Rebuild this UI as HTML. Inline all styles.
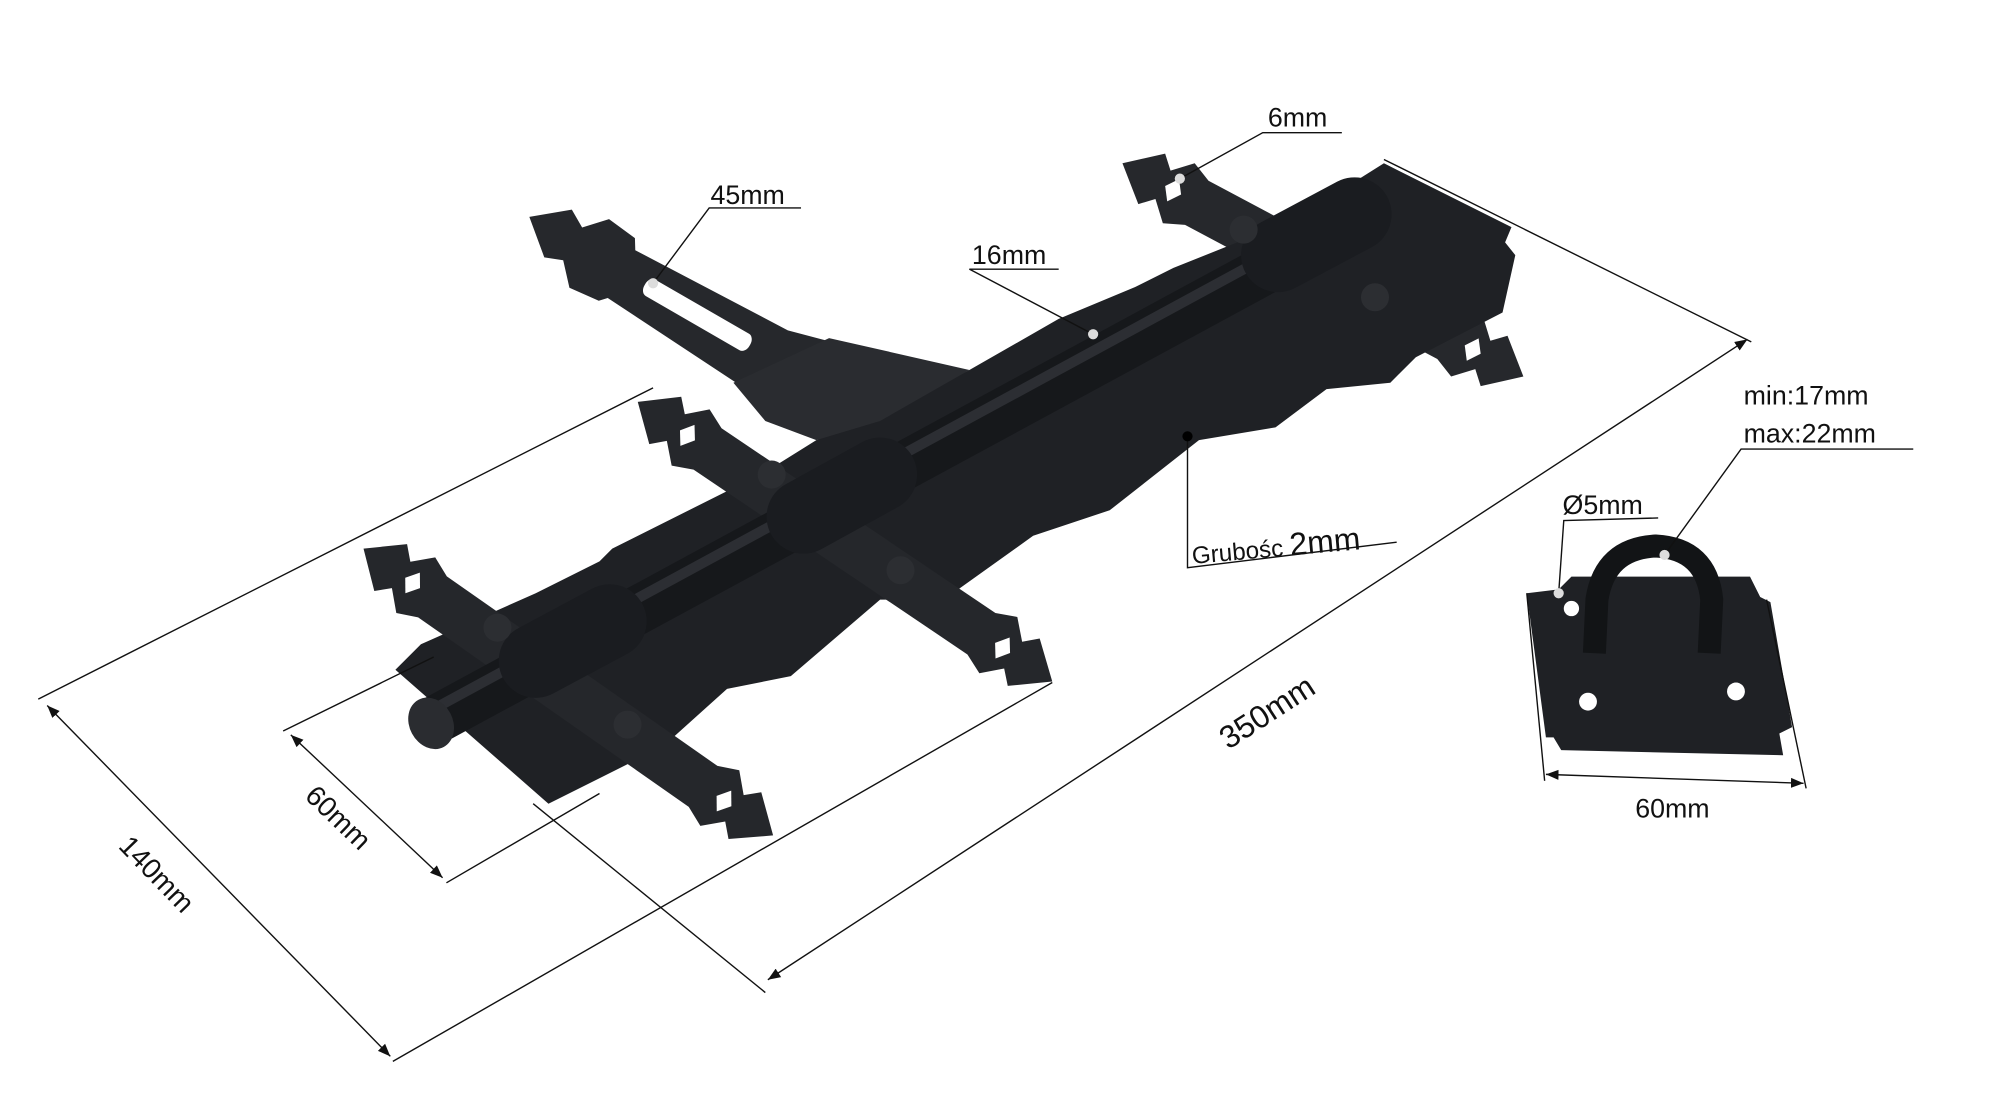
<!DOCTYPE html>
<html><head><meta charset="utf-8"><style>
html,body{margin:0;padding:0;background:#fff;}
svg{display:block;}
text{font-family:"Liberation Sans","DejaVu Sans",sans-serif;fill:#111;}
</style></head><body>
<svg width="2000" height="1115" viewBox="0 0 1568 874" preserveAspectRatio="none" xmlns="http://www.w3.org/2000/svg">
<defs>
<marker id="ar" viewBox="0 0 10 10" refX="10" refY="5" markerWidth="9" markerHeight="9" orient="auto-start-reverse"><path d="M0,1 L10,5 L0,9 z" fill="#111"/></marker>
</defs>
<rect width="1568" height="874" fill="#fff"/>

<!-- top-left slotted strap -->
<g fill="#26282c" transform="translate(415,170) rotate(30) scale(1,1.35)">
 <path d="M0,0 L26,-16 L40,-10 L55,-22 L80,-20 L85,-14 L220,-18 L250,-24 L250,30 L220,24 L85,18 L80,22 L55,24 L40,12 L26,16 Z"/>
 <rect x="105" y="-5" width="95" height="11" rx="5" fill="#fff"/>
</g>
<!-- right strap -->
<g fill="#26282c" transform="translate(880,128) rotate(28) scale(1,1.4)">
 <path d="M0,0 L26,-16 L36,-9 L50,-19 L66,-14 L290,-14 L306,-19 L320,-9 L330,-16 L356,0 L330,16 L320,9 L306,19 L290,14 L66,14 L50,19 L36,9 L26,16 Z"/>
 <rect x="40" y="-5" width="10" height="10" fill="#fff" transform="rotate(45 45 0)"/>
 <rect x="306" y="-5" width="10" height="10" fill="#fff" transform="rotate(45 311 0)"/>
</g>
<!-- plate -->
<path fill="#1f2125" d="M1085,128 L1185,178 L1180,190 L1188,200 L1178,245 L1110,280 L1090,300 L1040,305 L1000,335 L940,345 L870,400 L810,420 L740,470 L690,470 L620,530 L570,540 L520,585 L470,610 L430,630 L310,525 L330,505 L420,465 L470,440 L480,430 L600,370 L640,345 L700,320 L760,290 L830,250 L890,225 L920,210 L970,190 L1000,170 L1050,150 Z"/>
<path fill="#2a2c30" d="M575,300 L650,265 L760,290 L690,330 L640,345 L600,330 Z"/>
<!-- middle strap -->
<g fill="#25272b" transform="translate(500,315) rotate(34) scale(1,1.4)">
 <path d="M0,0 L26,-16 L36,-9 L50,-19 L66,-14 L325,-14 L341,-19 L355,-9 L365,-16 L392,0 L365,16 L355,9 L341,19 L325,14 L66,14 L50,19 L36,9 L26,16 Z"/>
 <rect x="42" y="-5" width="10" height="10" fill="#fff" transform="rotate(45 47 0)"/>
 <rect x="340" y="-5" width="10" height="10" fill="#fff" transform="rotate(45 345 0)"/>
</g>
<!-- bottom-left strap -->
<g fill="#25272b" transform="translate(285,430) rotate(35) scale(1,1.4)">
 <path d="M0,0 L26,-16 L36,-9 L50,-19 L66,-14 L325,-14 L341,-19 L355,-9 L365,-16 L392,0 L365,16 L355,9 L341,19 L325,14 L66,14 L50,19 L36,9 L26,16 Z"/>
 <rect x="42" y="-5" width="10" height="10" fill="#fff" transform="rotate(45 47 0)"/>
 <rect x="340" y="-5" width="10" height="10" fill="#fff" transform="rotate(45 345 0)"/>
</g>
<!-- rod -->
<line x1="340" y1="565" x2="1065" y2="172" stroke="#16181b" stroke-width="38" stroke-linecap="round"/>
<line x1="345" y1="553" x2="1060" y2="165" stroke="#2c2e33" stroke-width="8"/>
<ellipse cx="338" cy="567" rx="17" ry="21" fill="#2a2c30" transform="rotate(-28 338 567)"/>
<!-- barrels -->
<line x1="420" y1="518" x2="478" y2="487" stroke="#1a1c20" stroke-width="58" stroke-linecap="round"/>
<line x1="630" y1="405" x2="690" y2="372" stroke="#1a1c20" stroke-width="58" stroke-linecap="round"/>
<line x1="1002" y1="200" x2="1062" y2="168" stroke="#1a1c20" stroke-width="58" stroke-linecap="round"/>
<!-- rivets -->
<g fill="#2c2e32"><circle cx="390" cy="492" r="11"/><circle cx="492" cy="568" r="11"/><circle cx="605" cy="372" r="11"/><circle cx="706" cy="447" r="11"/><circle cx="975" cy="180" r="11"/><circle cx="1078" cy="233" r="11"/></g>

<!-- staple plate -->
<path fill="#1f2125" d="M1197,465 L1222,462 L1232,452 L1372,452 L1380,468 L1388,472 L1405,570 L1395,575 L1398,592 L1224,588 L1218,578 L1212,578 Z"/>
<g fill="#fff"><circle cx="1232" cy="477" r="6"/><circle cx="1245" cy="550" r="7"/><circle cx="1361" cy="542" r="7"/></g>
<path d="M1250,512 L1252,470 Q1258,430 1298,428 Q1338,430 1342,470 L1340,512" fill="none" stroke="#121416" stroke-width="18"/>

<!-- dimension lines -->
<g stroke="#111" stroke-width="1.1" fill="none">
 <line x1="30" y1="548" x2="512" y2="304"/>
 <line x1="308" y1="832" x2="825" y2="535"/>
 <line x1="37" y1="553" x2="306" y2="828" marker-start="url(#ar)" marker-end="url(#ar)"/>
 <line x1="222" y1="573" x2="340" y2="515"/>
 <line x1="350" y1="692" x2="470" y2="622"/>
 <line x1="228" y1="576" x2="347" y2="688" marker-start="url(#ar)" marker-end="url(#ar)"/>
 <line x1="418" y1="630" x2="600" y2="778"/>
 <line x1="1085" y1="125" x2="1373" y2="268"/>
 <line x1="602" y1="768" x2="1370" y2="266" marker-start="url(#ar)" marker-end="url(#ar)"/>
 <line x1="1197" y1="465" x2="1211" y2="612"/>
 <line x1="1385" y1="470" x2="1416" y2="618"/>
 <line x1="1212" y1="607" x2="1414" y2="614" marker-start="url(#ar)" marker-end="url(#ar)"/>
 <polyline points="925,140 990,104 1052,104"/>
 <polyline points="512,222 556,163 628,163"/>
 <polyline points="857,262 760,211 830,211"/>
 <polyline points="931,342 931,445 1095,425"/>
 <polyline points="1305,435 1365,352 1500,352"/>
 <polyline points="1222,465 1226,408 1300,406"/>
</g>
<g fill="#ddd"><circle cx="925" cy="140" r="4"/><circle cx="512" cy="222" r="4"/><circle cx="857" cy="262" r="4"/><circle cx="1305" cy="435" r="4"/><circle cx="1222" cy="465" r="4"/></g>
<circle cx="931" cy="342" r="4" fill="#000"/>

<g font-size="21">
 <text x="994" y="99">6mm</text>
 <text x="557" y="160">45mm</text>
 <text x="762" y="207">16mm</text>
 <text x="1367" y="317">min:17mm</text>
 <text x="1367" y="347">max:22mm</text>
 <text x="1225" y="403">Ø5mm</text>
 <text x="1282" y="641">60mm</text>
 <text transform="translate(935,442) rotate(-5)" font-size="19">Grubośc <tspan font-size="25">2mm</tspan></text>
 <text transform="translate(963,588) rotate(-33)" font-size="25">350mm</text>
 <text transform="translate(92,664) rotate(46)" font-size="22">140mm</text>
 <text transform="translate(238,625) rotate(44)" font-size="22">60mm</text>
</g>
</svg>
</body></html>
